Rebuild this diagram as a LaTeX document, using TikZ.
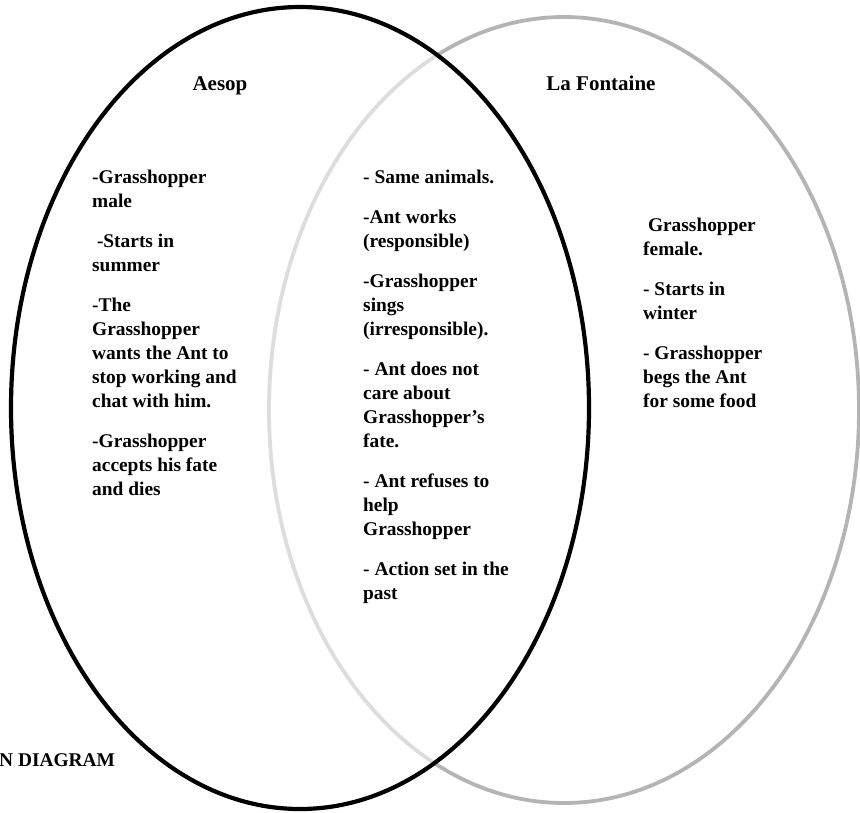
\documentclass[tikz,border=0pt]{standalone}
\usepackage{fontspec}
\setmainfont{Liberation Serif}
\newcommand{\vennfont}{\bfseries\fontsize{19.4pt}{24pt}\selectfont}
\newcommand{\titlefont}{\bfseries\fontsize{21pt}{24pt}\selectfont}
\newcommand{\firstline}{\rule{0pt}{15pt}}
\begin{document}
\begin{tikzpicture}[x=1pt,y=-1pt,
  colbody/.style={font=\vennfont, align=left, anchor=north west, inner sep=0pt},
  settitle/.style={font=\titlefont, inner sep=0pt, anchor=base},
  aesopring/.style={draw=black, line width=4.2pt},
  fontainering/.style={draw=ringgray, line width=3.8pt}]
\definecolor{ringgray}{HTML}{B4B4B4}
\useasboundingbox (0,0) rectangle (860,812);
\fill[white] (0,0) rectangle (860,812);

% the two sets; the Aesop set veils the part of the other ring it covers
\path[fontainering] (564,410) ellipse [x radius=295pt, y radius=393pt];
\fill[white, opacity=0.55] (300,408) ellipse [x radius=289pt, y radius=401pt];
\path[aesopring] (300,408) ellipse [x radius=289pt, y radius=401pt];

% set titles
\node[settitle] (aesopTitle) at (220,90) {Aesop};
\node[settitle] (fontaineTitle) at (601,90) {La Fontaine};

% Aesop only
\node[colbody] (aesopText) at (92,168.5) {\firstline-Grasshopper\\
male\\[16pt]
\hspace{4.8pt}-Starts in\\
summer\\[16pt]
-The\\
Grasshopper\\
wants the Ant to\\
stop working and\\
chat with him.\\[16pt]
-Grasshopper\\
accepts his fate\\
and dies};

% shared by both
\node[colbody] (sharedText) at (363,168.5) {\firstline- Same animals.\\[16pt]
-Ant works\\
(responsible)\\[16pt]
-Grasshopper\\
sings\\
(irresponsible).\\[16pt]
- Ant does not\\
care about\\
Grasshopper’s\\
fate.\\[16pt]
- Ant refuses to\\
help\\
Grasshopper\\[16pt]
- Action set in the\\
past};

% La Fontaine only
\node[colbody] (fontaineText) at (643,216.5) {\firstline\hspace{4.8pt}Grasshopper\\
female.\\[16pt]
- Starts in\\
winter\\[16pt]
- Grasshopper\\
begs the Ant\\
for some food};

% caption, cut at the left edge
\node[settitle, font=\vennfont, anchor=base west] (vennLabel) at (-1,766.5) {N DIAGRAM};
\end{tikzpicture}
\end{document}
